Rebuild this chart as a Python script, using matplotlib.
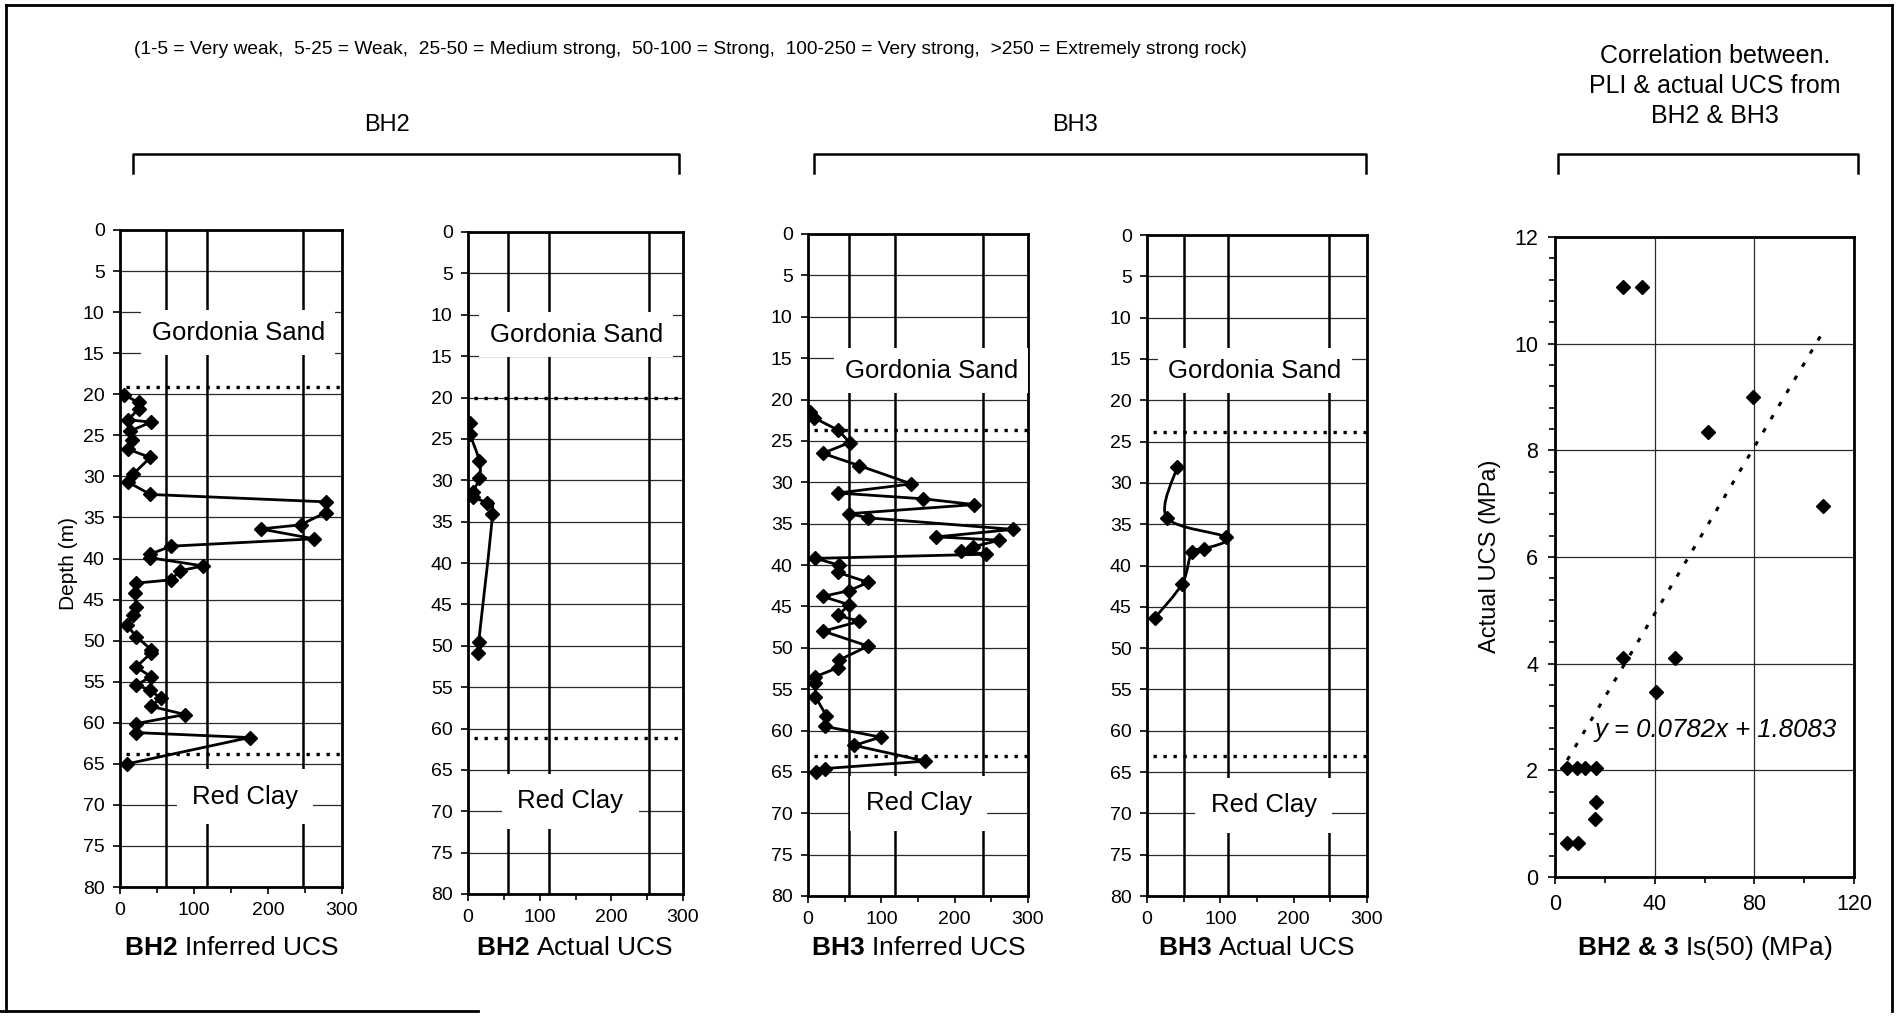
import numpy as np
import matplotlib
matplotlib.use('Agg')
import matplotlib.pyplot as plt
from matplotlib.path import Path
from matplotlib.patches import PathPatch
from matplotlib.lines import Line2D
from matplotlib.ticker import MultipleLocator

plt.rcParams['font.family'] = ['Liberation Sans', 'DejaVu Sans']
plt.rcParams['mathtext.fontset'] = 'custom'
plt.rcParams['mathtext.rm'] = 'Liberation Sans'
plt.rcParams['mathtext.bf'] = 'Liberation Sans:bold'
plt.rcParams['mathtext.it'] = 'Liberation Sans:italic'

# ---- data ----
bh2_inf_depth = [20.1, 21.0, 21.8, 23.1, 23.4, 24.5, 25.6, 26.7, 27.7, 29.7,
                 30.7, 32.2, 33.1, 34.4, 35.9, 36.4, 37.6, 38.5, 39.5, 39.9,
                 40.9, 41.5, 42.6, 43.0, 44.2, 45.9, 46.9, 48.1, 49.5, 51.1,
                 51.5, 53.2, 54.4, 55.4, 56.0, 57.0, 58.0, 59.0, 60.1, 61.2,
                 61.8, 65.0]
bh2_inf_ucs = [6, 25, 25, 11, 42, 13, 16, 11, 41, 18,
               11, 41, 278, 278, 244, 190, 262, 69, 40, 40,
               112, 81, 69, 22, 20, 22, 18, 9, 22, 42,
               42, 22, 42, 22, 40, 55, 42, 88, 22, 22,
               175, 10]

bh2_act_depth = [23.1, 24.4, 27.7, 29.7, 31.4, 32.0, 32.8, 34.1, 49.5, 50.9]
bh2_act_ucs = [3, 3, 16, 16, 7, 7, 26, 34, 15, 14]

bh3_inf_depth = [21.5, 22.2, 23.7, 25.2, 26.5, 28.0, 30.2, 31.3, 32.0, 32.7,
                 33.8, 34.3, 35.7, 36.6, 37.0, 37.8, 38.3, 38.7, 39.2, 40.0,
                 40.9, 42.1, 43.1, 43.8, 44.8, 46.1, 46.8, 48.0, 49.8, 51.5,
                 52.4, 53.5, 54.2, 55.9, 58.2, 59.5, 60.8, 61.8, 63.7, 64.6,
                 65.0]
bh3_inf_ucs = [3, 8, 41, 57, 20, 70, 141, 41, 157, 227,
               56, 82, 280, 175, 261, 225, 209, 243, 10, 42,
               41, 82, 56, 20, 56, 41, 70, 21, 82, 42,
               41, 10, 10, 10, 25, 23, 99, 63, 160, 23,
               11]

bh3_act_depth = [28.1, 34.2, 36.6, 38.0, 38.4, 42.2, 46.3]
bh3_act_ucs = [41, 27, 108, 78, 61, 48, 11]

# layer boundaries (top of weathered rock, top of red clay)
bh2_inf_bounds = [19.1, 63.8]
bh2_act_bounds = [20.1, 61.2]
bh3_inf_bounds = [23.7, 63.1]
bh3_act_bounds = [23.8, 63.1]

# PLI vs actual UCS
pli = [27.2, 35.0, 61.3, 79.3, 107.6, 27.2, 48.3, 40.5, 4.9, 8.9,
       12.0, 16.3, 16.5, 16.0, 4.9, 9.2]
ucs_actual = [11.06, 11.06, 8.34, 9.0, 6.95, 4.11, 4.11, 3.47, 2.05, 2.05,
              2.05, 2.05, 1.41, 1.08, 0.64, 0.64]
trend_slope = 0.0782
trend_icpt = 1.8083

W, H = 1897, 1016
fig = plt.figure(figsize=(W / 100, H / 100), dpi=100)


def rect(x0, y0, x1, y1):
    return [x0 / W, 1 - y1 / H, (x1 - x0) / W, (y1 - y0) / H]


def fxy(x, y):
    return x / W, 1 - y / H


def smooth_path(xs, ys):
    # excel-like smoothed line through the points (cubic bezier pieces)
    p = np.column_stack([xs, ys]).astype(float)
    n = len(p)
    verts = [p[0]]
    codes = [Path.MOVETO]
    for i in range(n - 1):
        p0, p1 = p[max(i - 1, 0)], p[i]
        p2, p3 = p[i + 1], p[min(i + 2, n - 1)]
        verts += [p1 + (p2 - p0) / 6, p2 - (p3 - p1) / 6, p2]
        codes += [Path.CURVE4] * 3
    return Path(verts, codes)


def depth_panel(box, ucs, depth, bounds, vgrid, sand_xy, clay_xy,
                smooth=False):
    ax = fig.add_axes(rect(*box))
    ax.set_xlim(0, 300)
    ax.set_ylim(80, 0)
    ax.set_xticks([0, 100, 200, 300])
    ax.xaxis.set_minor_locator(MultipleLocator(50))
    ax.set_yticks(range(0, 81, 5))
    ax.grid(axis='y', color='#2a2a2a', lw=0.9)
    ax.set_axisbelow(True)
    for v in vgrid:
        ax.axvline(v, color='black', lw=1.8, zorder=1)
    for s in ax.spines.values():
        s.set_linewidth(2)
    ax.tick_params(which='both', direction='out', width=1.2, labelsize=14, pad=6)
    ax.tick_params(which='major', length=5)
    ax.tick_params(which='minor', length=4)

    for d in bounds:
        ax.hlines(d, 8, 300, colors='black', linestyles=(0, (1, 2)), lw=2.4,
                  zorder=3)
    if smooth:
        ax.add_patch(PathPatch(smooth_path(ucs, depth), fill=False,
                               ec='black', lw=2, zorder=4))
        ax.plot(ucs, depth, 'D', color='black', ms=7, zorder=5)
    else:
        ax.plot(ucs, depth, '-D', color='black', lw=2, ms=7, zorder=5)

    ax.text(sand_xy[0], sand_xy[1], 'Gordonia Sand', fontsize=18.5,
            ha='center', va='center', zorder=6,
            bbox=dict(boxstyle='square,pad=0.4', fc='white', ec='none'))
    ax.text(clay_xy[0], clay_xy[1], 'Red Clay', fontsize=18.5,
            ha='center', va='center', zorder=6,
            bbox=dict(boxstyle='square,pad=0.6', fc='white', ec='none'))
    return ax


depth_panel((120, 230, 342, 887), bh2_inf_ucs, bh2_inf_depth, bh2_inf_bounds,
            [62, 117, 247], (160, 12.5), (169, 69.0))
depth_panel((468, 232, 683, 894), bh2_act_ucs, bh2_act_depth, bh2_act_bounds,
            [56, 113, 252], (151, 12.4), (143, 68.8), smooth=True)
depth_panel((808, 234, 1028, 896), bh3_inf_ucs, bh3_inf_depth, bh3_inf_bounds,
            [56, 119, 238], (168, 16.5), (151, 68.8))
depth_panel((1147, 235, 1367, 896), bh3_act_ucs, bh3_act_depth, bh3_act_bounds,
            [51, 111, 248], (147, 16.4), (159, 69.0), smooth=True)

# correlation panel
ax = fig.add_axes(rect(1555, 237, 1854, 877))
ax.set_xlim(0, 120)
ax.set_ylim(0, 12)
ax.set_xticks([0, 40, 80, 120])
ax.set_yticks(range(0, 13, 2))
ax.xaxis.set_minor_locator(MultipleLocator(20))
ax.yaxis.set_minor_locator(MultipleLocator(0.4))
ax.grid(which='major', color='#2a2a2a', lw=0.9)
ax.set_axisbelow(True)
for s in ax.spines.values():
    s.set_linewidth(2)
ax.tick_params(which='both', direction='out', width=1.2, labelsize=15.5, pad=7)
ax.tick_params(which='major', length=5)
ax.tick_params(which='minor', length=4)
ax.plot(pli, ucs_actual, 'D', color='black', ms=7, zorder=4)
tx = np.array([min(pli), max(pli)])
ax.plot(tx, trend_slope * tx + trend_icpt, color='black', lw=2.2,
        linestyle=(0, (1.5, 3.5)), zorder=3)
ax.text(64.5, 2.75, 'y = %.4fx + %.4f' % (trend_slope, trend_icpt),
        fontsize=18.5, style='italic', ha='center', va='center', zorder=5)

# axis titles
fig.text(*fxy(69, 563), 'Depth (m)', rotation=90, fontsize=15,
         ha='center', va='center')
fig.text(*fxy(1490, 556), 'Actual UCS (MPa)', rotation=90, fontsize=17,
         ha='center', va='center')
for xc, lab in [(231, r'$\mathbf{BH2}$ Inferred UCS'),
                (575, r'$\mathbf{BH2}$ Actual UCS'),
                (918, r'$\mathbf{BH3}$ Inferred UCS'),
                (1257, r'$\mathbf{BH3}$ Actual UCS'),
                (1705, r'$\mathbf{BH2\ &\ 3}$ Is(50) (MPa)')]:
    fig.text(*fxy(xc, 948), lab, fontsize=19, ha='center', va='center')

# header
fig.text(*fxy(134, 50),
         '(1-5 = Very weak,  5-25 = Weak,  25-50 = Medium strong,  '
         '50-100 = Strong,  100-250 = Very strong,  >250 = Extremely strong rock)',
         fontsize=13.8, ha='left', va='center')
fig.text(*fxy(387, 125), 'BH2', fontsize=17, ha='center', va='center')
fig.text(*fxy(1075, 125), 'BH3', fontsize=17, ha='center', va='center')
fig.text(*fxy(1715, 86), 'Correlation between.\nPLI & actual UCS from\nBH2 & BH3',
         fontsize=18, ha='center', va='center', linespacing=1.3)

# brackets above the panel groups
for x0, x1 in [(133, 679), (814, 1366), (1558, 1858)]:
    xs = [x0 / W, x0 / W, x1 / W, x1 / W]
    ys = [1 - 173 / H, 1 - 154 / H, 1 - 154 / H, 1 - 173 / H]
    fig.add_artist(Line2D(xs, ys, color='black', lw=1.8))

# outer frame
fig.add_artist(Line2D([6 / W, 1892 / W], [1 - 5 / H, 1 - 5 / H], color='black', lw=2))
fig.add_artist(Line2D([6 / W, 6 / W], [1 - 5 / H, 1 - 1011 / H], color='black', lw=2))
fig.add_artist(Line2D([1892 / W, 1892 / W], [1 - 5 / H, 1 - 1011 / H], color='black', lw=2))
fig.add_artist(Line2D([0, 478 / W], [1 - 1011 / H, 1 - 1011 / H], color='black', lw=2))

fig.savefig('out.png', dpi=100, facecolor='white')
